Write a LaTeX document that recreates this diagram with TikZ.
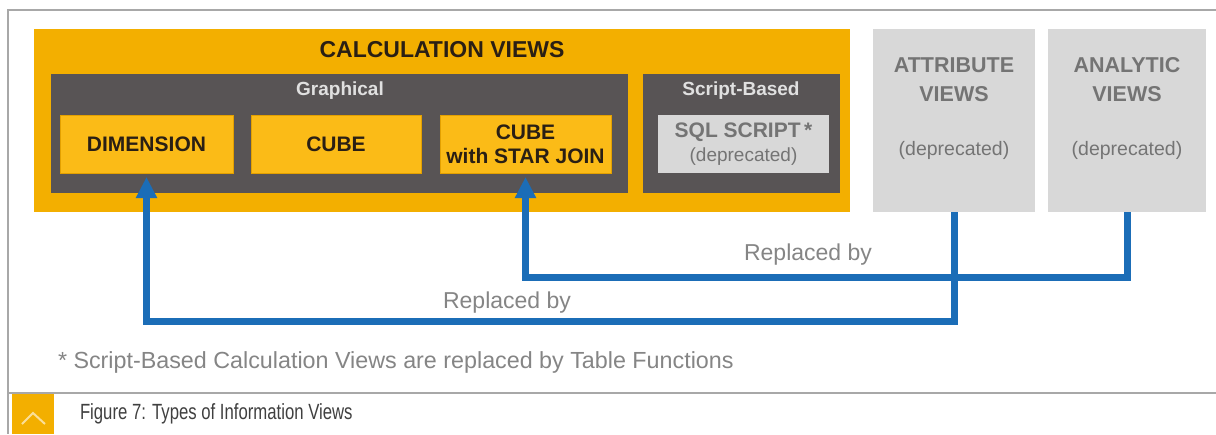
\documentclass[tikz,border=0pt]{standalone}
\usepackage{fontspec}
\usepackage{graphicx}
\setmainfont{Liberation Sans}
\usetikzlibrary{arrows.meta}

\definecolor{gold}{HTML}{F3AF00}
\definecolor{goldlight}{HTML}{FBBB17}
\definecolor{goldedge}{HTML}{E3A000}
\definecolor{slate}{HTML}{585455}
\definecolor{paleg}{HTML}{D8D8D8}
\definecolor{greytext}{HTML}{747474}
\definecolor{labelgrey}{HTML}{858585}
\definecolor{darktext}{HTML}{2A1F14}
\definecolor{linkblue}{HTML}{1B6DB7}
\definecolor{framegrey}{HTML}{A8A8A8}

\tikzset{
  x=1pt, y=-1pt,
  every node/.style={inner sep=0pt, outer sep=0pt},
  corner/.style={anchor=north west},
  goldpanel/.style={corner, fill=gold},
  slatepanel/.style={corner, fill=slate},
  goldtile/.style={corner, fill=goldlight, draw=goldedge, line width=0.8pt,
    text=darktext, font=\fontsize{21}{24}\selectfont\bfseries, align=center},
  paletile/.style={corner, fill=paleg},
  headtext/.style={text=darktext, font=\fontsize{23}{26}\selectfont\bfseries},
  subhead/.style={text=white!88!black, font=\fontsize{19}{22}\selectfont\bfseries},
  oldtitle/.style={text=greytext, font=\fontsize{21.5}{29}\selectfont\bfseries, align=center},
  oldnote/.style={text=greytext, font=\fontsize{19.5}{22}\selectfont},
  linklabel/.style={text=labelgrey, font=\fontsize{23}{24}\selectfont},
  link/.style={draw=linkblue, line width=7pt, line join=miter,
    -{Triangle[length=21pt, width=20pt]}, shorten >=4pt},
}

\begin{document}
\begin{tikzpicture}
\useasboundingbox[fill=white] (0,0) rectangle (1216,434);

% page frame and caption strip
\draw[framegrey, line width=1.6pt] (1216,10) -- (8,10) -- (8,434);
\draw[framegrey, line width=1.6pt] (8,393) -- (1216,393);
\fill[gold] (12,394) rectangle (54,434);
\draw[white, opacity=0.6, line width=2pt] (22,424) -- (33,413) -- (45,424);
\node[anchor=west, text=black!75] (caption) at (80,414)
  {\scalebox{0.76}[1]{\fontsize{22}{24}\selectfont Figure 7: Types of Information Views}};

% calculation views
\node[goldpanel, minimum width=816, minimum height=183] (calc) at (34,29) {};
\node[headtext] (calctitle) at (442,50) {CALCULATION VIEWS};

\node[slatepanel, minimum width=577, minimum height=119] (graph) at (51,74) {};
\node[subhead] (graphtitle) at (340,91) {Graphical};
\node[goldtile, minimum width=173, minimum height=58] (dim) at (60,115) {DIMENSION};
\node[goldtile, minimum width=170, minimum height=58] (cube) at (251,115) {CUBE};
\node[goldtile, minimum width=171, minimum height=58] (star) at (440,115)
  {CUBE\\with STAR JOIN};

\node[slatepanel, minimum width=197, minimum height=119] (script) at (643,74) {};
\node[subhead] (scripttitle) at (741,91) {Script-Based};
\node[paletile, minimum width=171, minimum height=58, text=greytext,
  font=\fontsize{19}{24}\selectfont, align=center] (sql) at (658,115)
  {\textbf{\fontsize{21}{24}\selectfont SQL SCRIPT\,*}\\(deprecated)};

% deprecated view types
\node[paletile, minimum width=162, minimum height=183] (attr) at (873,29) {};
\node[oldtitle] (attrtitle) at (954,80) {ATTRIBUTE\\VIEWS};
\node[oldnote] (attrnote) at (954,150) {(deprecated)};

\node[paletile, minimum width=158, minimum height=183] (anal) at (1048,29) {};
\node[oldtitle] (analtitle) at (1127,80) {ANALYTIC\\VIEWS};
\node[oldnote] (analnote) at (1127,150) {(deprecated)};

% replacement links
\draw[link] (attr.south) -- ++(0,109) -| (dim.south);
\draw[link] (anal.south) -- ++(0,65) -| (star.south);
\node[linklabel] (lblattr) at (507,303) {Replaced by};
\node[linklabel] (lblanal) at (808,255) {Replaced by};

% footnote
\node[anchor=west, text=labelgrey, font=\fontsize{23.3}{26}\selectfont] (foot) at (58,362)
  {* Script-Based Calculation Views are replaced by Table Functions};
\end{tikzpicture}
\end{document}
